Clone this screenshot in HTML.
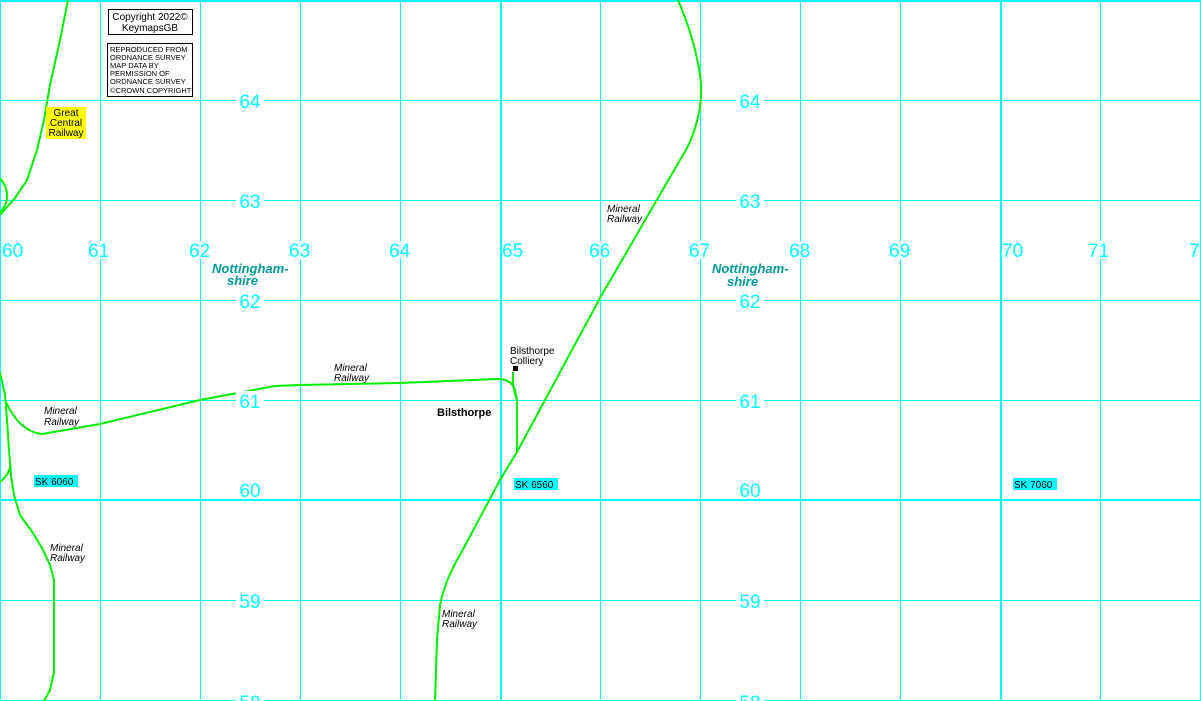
<!DOCTYPE html>
<html><head><meta charset="utf-8"><style>
html,body{margin:0;padding:0;background:#fff;}
svg{display:block;}
.n{font-family:"Liberation Sans",sans-serif;font-size:19px;fill:#00ffff;}
.it{font-family:"Liberation Sans",sans-serif;font-size:10px;font-style:italic;fill:#000;}
.cty{font-family:"Liberation Sans",sans-serif;font-size:13px;font-style:italic;font-weight:bold;fill:#009999;}
.sm{font-family:"Liberation Sans",sans-serif;font-size:10px;fill:#000;}
</style></head><body>
<svg width="1201" height="701" viewBox="0 0 1201 701" xmlns="http://www.w3.org/2000/svg">
<rect width="1201" height="701" fill="#fff"/>
<g stroke="#00ffff" stroke-width="1" fill="none" shape-rendering="crispEdges">
<line x1="0.5" y1="0" x2="0.5" y2="701"/>
<line x1="100.5" y1="0" x2="100.5" y2="701"/>
<line x1="200.5" y1="0" x2="200.5" y2="701"/>
<line x1="300.5" y1="0" x2="300.5" y2="701"/>
<line x1="400.5" y1="0" x2="400.5" y2="701"/>
<line x1="600.5" y1="0" x2="600.5" y2="701"/>
<line x1="700.5" y1="0" x2="700.5" y2="701"/>
<line x1="800.5" y1="0" x2="800.5" y2="701"/>
<line x1="900.5" y1="0" x2="900.5" y2="701"/>
<line x1="1100.5" y1="0" x2="1100.5" y2="701"/>
<line x1="1200.5" y1="0" x2="1200.5" y2="701"/>
<line x1="0" y1="100.5" x2="1201" y2="100.5"/>
<line x1="0" y1="200.5" x2="1201" y2="200.5"/>
<line x1="0" y1="300.5" x2="1201" y2="300.5"/>
<line x1="0" y1="400.5" x2="1201" y2="400.5"/>
<line x1="0" y1="600.5" x2="1201" y2="600.5"/>
<line x1="0" y1="700.5" x2="1201" y2="700.5"/>
</g>
<g stroke="#00ffff" stroke-width="2" fill="none" shape-rendering="crispEdges">
<line x1="501" y1="0" x2="501" y2="701"/>
<line x1="1001" y1="0" x2="1001" y2="701"/>
<line x1="0" y1="500" x2="1201" y2="500"/>
<line x1="0" y1="1" x2="1201" y2="1"/>
</g>
<!-- railways -->
<g stroke="#00ee00" stroke-width="2" fill="none">
<path d="M68,0 L60,40 L50,85 L44,120 L37,150 L27,180 L15,198 L0,215"/>
<path d="M0,178 Q10,190 6,203 Q3,210 0,212"/>
<path d="M0,372 L5,395 L7,420 L9,450 L11,475 L14,495 L20,515 L33,533 L42,548 L50,565 L54,580 L54,672 L50,690 L44,701"/>
<path d="M0,482 Q8,476 11,465"/>
<path d="M6,402 Q20,432 42,434 L100,424 L200,400 L275,386 L300,385 L400,383 L497,379 Q512,379 515,390 L517,400 L517,452"/>
<path d="M513,372 L513,385 L516,398"/>
<path d="M678,0 Q695,40 700,75 Q704,100 695,128 Q690,145 680,160 L600,298 L517,452 L500,480 L460,555 Q445,580 440,605 L437,640 L435,701"/>
</g>
<rect x="513" y="366" width="5" height="5" fill="#000"/>
<!-- easting labels -->
<g class="n">
<rect x="2" y="241" width="22" height="18" fill="#fff"/><text x="2" y="257">60</text>
<rect x="88" y="241" width="22" height="18" fill="#fff"/><text x="88" y="257">61</text>
<rect x="189" y="241" width="22" height="18" fill="#fff"/><text x="189" y="257">62</text>
<rect x="289" y="241" width="22" height="18" fill="#fff"/><text x="289" y="257">63</text>
<rect x="389" y="241" width="22" height="18" fill="#fff"/><text x="389" y="257">64</text>
<rect x="502" y="241" width="22" height="18" fill="#fff"/><text x="502" y="257">65</text>
<rect x="589" y="241" width="22" height="18" fill="#fff"/><text x="589" y="257">66</text>
<rect x="689" y="241" width="22" height="18" fill="#fff"/><text x="689" y="257">67</text>
<rect x="789" y="241" width="22" height="18" fill="#fff"/><text x="789" y="257">68</text>
<rect x="889" y="241" width="22" height="18" fill="#fff"/><text x="889" y="257">69</text>
<rect x="1002" y="241" width="22" height="18" fill="#fff"/><text x="1002" y="257">70</text>
<rect x="1088" y="241" width="22" height="18" fill="#fff"/><text x="1088" y="257">71</text>
<rect x="1189" y="241" width="11" height="18" fill="#fff"/><text x="1189" y="257">7</text>
</g>
<g class="n" text-anchor="middle">
<g id="col">
<rect x="236" y="91" width="28" height="18" fill="#fff"/><text x="250" y="108">64</text>
<rect x="236" y="191" width="28" height="18" fill="#fff"/><text x="250" y="208">63</text>
<rect x="236" y="291" width="28" height="18" fill="#fff"/><text x="250" y="308">62</text>
<rect x="236" y="391" width="28" height="18" fill="#fff"/><text x="250" y="408">61</text>
<text x="250" y="497">60</text>
<rect x="236" y="591" width="28" height="18" fill="#fff"/><text x="250" y="608">59</text>
<rect x="236" y="692" width="28" height="18" fill="#fff"/><text x="250" y="709">58</text>
</g>
<use href="#col" x="500"/>
</g>
<!-- county -->
<text class="cty" x="212" y="273">Nottingham-</text>
<text class="cty" x="227" y="285">shire</text>
<text class="cty" x="712" y="273">Nottingham-</text>
<text class="cty" x="727" y="286">shire</text>
<!-- mineral railway labels -->
<text class="it" x="334" y="371">Mineral</text><text class="it" x="334" y="381">Railway</text>
<text class="it" x="44" y="414">Mineral</text><text class="it" x="44" y="425">Railway</text>
<text class="it" x="50" y="551">Mineral</text><text class="it" x="50" y="561">Railway</text>
<text class="it" x="607" y="212">Mineral</text><text class="it" x="607" y="222">Railway</text>
<text class="it" x="442" y="617">Mineral</text><text class="it" x="442" y="627">Railway</text>
<text class="sm" x="510" y="354">Bilsthorpe</text><text class="sm" x="510" y="364">Colliery</text>
<text x="437" y="416" style="font-family:'Liberation Sans',sans-serif;font-size:11px;font-weight:bold">Bilsthorpe</text>
<!-- SK labels -->
<rect x="34" y="475" width="44" height="12" fill="#00ffff"/><text class="sm" x="35" y="485">SK 6060</text>
<rect x="514" y="478" width="44" height="12" fill="#00ffff"/><text class="sm" x="515" y="488">SK 6560</text>
<rect x="1013" y="478" width="44" height="12" fill="#00ffff"/><text class="sm" x="1014" y="488">SK 7060</text>
<!-- great central -->
<rect x="46" y="107" width="40" height="32" fill="#ffff00"/>
<g class="sm" text-anchor="middle"><text x="66" y="116">Great</text><text x="66" y="126">Central</text><text x="66" y="136">Railway</text></g>
<!-- copyright -->
<rect x="108.5" y="9.5" width="84" height="25" fill="#fff" stroke="#000"/>
<g class="sm" text-anchor="middle"><text x="150" y="20">Copyright 2022©</text><text x="150" y="31">KeymapsGB</text></g>
<rect x="107.5" y="43.5" width="85" height="53" fill="#fff" stroke="#000"/>
<g font-family="Liberation Sans,sans-serif" font-size="7.5" fill="#000">
<text x="110" y="52">REPRODUCED FROM</text>
<text x="110" y="60">ORDNANCE SURVEY</text>
<text x="110" y="68">MAP DATA BY</text>
<text x="110" y="76">PERMISSION OF</text>
<text x="110" y="84">ORDNANCE SURVEY</text>
<text x="110" y="93">©CROWN COPYRIGHT</text>
</g>
</svg>
</body></html>
